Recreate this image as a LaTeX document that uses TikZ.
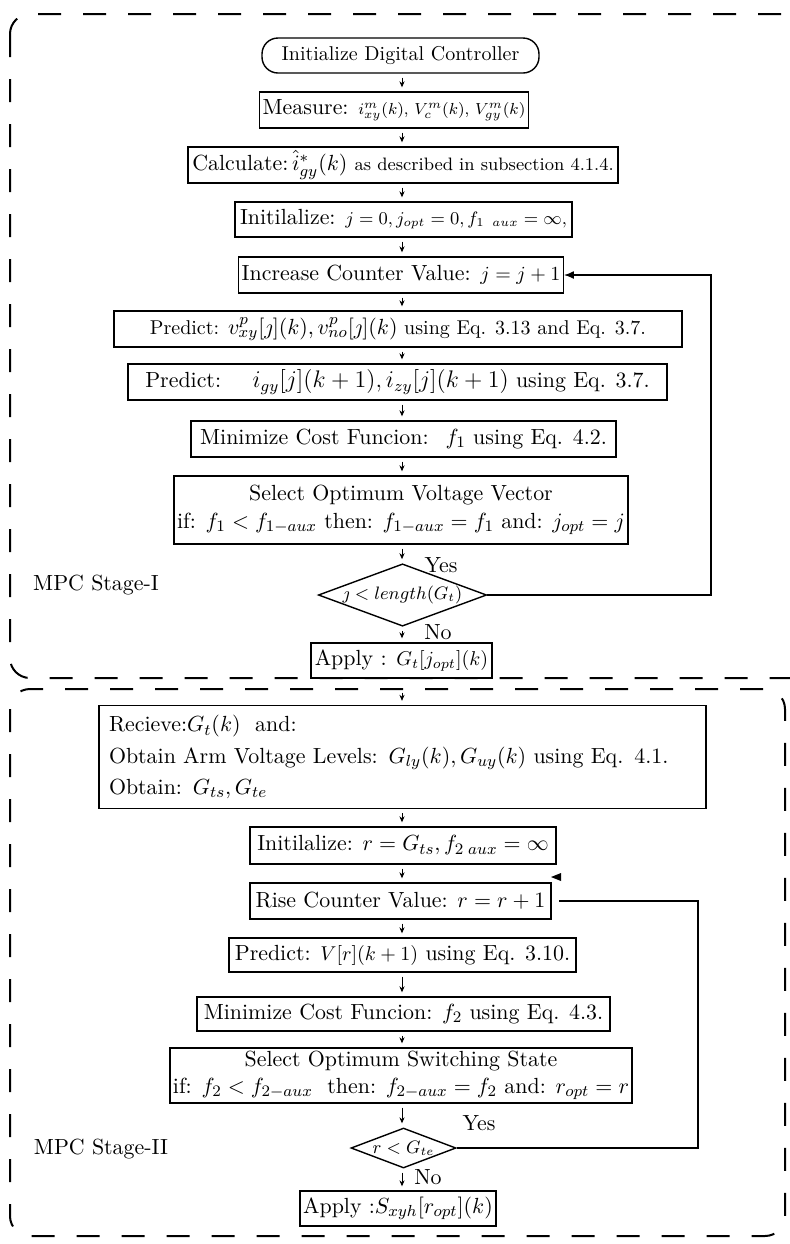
\documentclass[tikz,border=0pt,11pt]{standalone}
\usepackage{amsmath}
\usetikzlibrary{shapes.geometric,arrows.meta}

\begin{document}
\begin{tikzpicture}[x=0.5pt,y=-0.5pt,
  box/.style={draw,line width=0.7pt,inner sep=1.5pt,align=center},
  term/.style={box,rounded corners=8pt},
  cond/.style={draw,line width=0.7pt,diamond,aspect=2.7,inner sep=0pt},
  flow/.style={-{Stealth[length=3pt,width=2.6pt]},line width=0.4pt,shorten <=2pt,shorten >=2pt},
  loop/.style={-{Latex[length=5pt,width=4pt]},line width=0.7pt},
  stage/.style={draw,line width=1pt,dash pattern=on 11.5pt off 11pt,rounded corners=10pt}]
\useasboundingbox (0,0) rectangle (790,1244);

% dashed frames of the two stages
\draw[stage] (10,14) rectangle (812,678);
\draw[stage] (10,689) rectangle (785,1236);

\coordinate (axis) at (402,0);
\coordinate (ret1) at (711,0);
\coordinate (ret2) at (698,0);

% stage I
\node[term,minimum width=138.5pt,minimum height=17.5pt] (start) at (400.5,55.5) {\small Initialize Digital Controller};
\node[box,minimum width=127pt,minimum height=18pt] (meas) at (394,110) {Measure: {\scriptsize $i^m_{xy}(k),\, V^m_c(k),\, V^m_{gy}(k)$}};
\node[box,minimum width=215pt,minimum height=18pt] (calc) at (403,165) {Calculate:\,$\hat{i}^*_{gy}(k)$ {\footnotesize as described in subsection 4.1.4.}};
\node[box,minimum width=168.5pt,minimum height=17.5pt] (init1) at (403.5,219.5) {Initilalize: {\footnotesize $j=0, j_{opt}=0, f_{1\;\;aux}=\infty,$}};
\node[box,minimum width=160pt,minimum height=18pt] (incr) at (401,275) {Increase Counter Value: {\small $j=j+1$}};
\node[box,minimum width=284pt,minimum height=18pt] (predv) at (398,329) {\small Predict: {\normalsize $v^p_{xy}[\jmath](k), v^p_{no}[\jmath](k)$} using Eq. 3.13 and Eq. 3.7.};
\node[box,minimum width=269.5pt,minimum height=18pt] (predi) at (397.5,382) {Predict: \quad {\large $i_{gy}[j](k+1), i_{zy}[j](k+1)$} using Eq. 3.7.};
\node[box,minimum width=212.5pt,minimum height=18pt] (mini1) at (403.5,439) {Minimize Cost Funcion: \ $f_1$ using Eq. 4.2.};
\node[box,minimum width=217pt,minimum height=34pt] (sel1) at (401,510) {Select Optimum Voltage Vector\\ if: $f_1 < f_{1-aux}$ then: $f_{1-aux} = f_1$ and: $j_{opt} = j$};
\node[cond,minimum width=81.5pt,minimum height=30pt] (dia1) at (402.5,595) {\footnotesize $\jmath < length(G_t)$};
\node[box,minimum width=90.5pt,minimum height=17.5pt] (apply1) at (401.5,660.5) {Apply : {\small $G_t[j_{opt}](k)$}};

\node (yes1) at (441,565) {Yes};
\node (no1) at (438,632) {No};
\node (lab1) at (96,585) {MPC Stage-I};

\draw[flow] (start.south -| axis) -- (axis |- meas.north);
\draw[flow] (meas.south -| axis) -- (axis |- calc.north);
\draw[flow] (calc.south -| axis) -- (axis |- init1.north);
\draw[flow] (init1.south -| axis) -- (axis |- incr.north);
\draw[flow] (incr.south -| axis) -- (axis |- predv.north);
\draw[flow] (predv.south -| axis) -- (axis |- predi.north);
\draw[flow] (predi.south -| axis) -- (axis |- mini1.north);
\draw[flow] (mini1.south -| axis) -- (axis |- sel1.north);
\draw[flow] (sel1.south -| axis) -- (axis |- dia1.north);
\draw[flow] (dia1.south -| axis) -- (axis |- apply1.north);
\draw[loop] (dia1.east) -| (ret1 |- incr.east) -- (incr.east);

% stage II
\node[box,align=left,text width=293.5pt,inner sep=5pt,minimum height=48pt] (recv) at (402.5,757) {Recieve:$G_t(k)$ \ and:\\[2pt] Obtain Arm Voltage Levels: $G_{ly}(k), G_{uy}(k)$ using Eq. 4.1.\\[2pt] Obtain: $G_{ts}, G_{te}$};
\node[box,minimum width=153pt,minimum height=18.5pt] (init2) at (403,845.5) {Initilalize: $r = G_{ts}, f_{2\;aux} = \infty$};
\node[box,minimum width=150.5pt,minimum height=18pt] (rise) at (400.5,901) {Rise Counter Value: $r = r + 1$};
\node[box,minimum width=173.5pt,minimum height=17pt] (predV) at (402.5,955) {Predict: {\small $V[r](k+1)$} using Eq. 3.10.};
\node[box,minimum width=206.5pt,minimum height=17pt] (mini2) at (403.5,1014) {Minimize Cost Funcion: $f_2$ using Eq. 4.3.};
\node[box,minimum width=221pt,minimum height=27.5pt] (sel2) at (401,1075.5) {Select Optimum Switching State\\ if: $f_2 < f_{2-aux}$ \ then: $f_{2-aux} = f_2$ and: $r_{opt} = r$};
\node[cond,minimum width=52.5pt,minimum height=20pt] (dia2) at (403.5,1148) {\footnotesize $r < G_{te}$};
\node[box,minimum width=98pt,minimum height=17.5pt] (apply2) at (398,1208.5) {Apply :$S_{xyh}[r_{opt}](k)$};

\node (yes2) at (479,1123) {Yes};
\node (no2) at (428,1177) {No};
\node (lab2) at (101,1149) {MPC Stage-II};

\draw[flow,shorten <=7pt] (apply1.south -| axis) -- (axis |- recv.north);
\draw[flow] (recv.south -| axis) -- (axis |- init2.north);
\draw[flow] (init2.south -| axis) -- (axis |- rise.north);
\draw[flow] (rise.south -| axis) -- (axis |- predV.north);
\draw[flow] (predV.south -| axis) -- (axis |- mini2.north);
\draw[flow] (mini2.south -| axis) -- (axis |- sel2.north);
\draw[flow] (sel2.south -| axis) -- (axis |- dia2.north);
\draw[flow] (dia2.south -| axis) -- (axis |- apply2.north);
\coordinate (ret2end) at (559,901);
\draw[line width=0.7pt] (dia2.east) -| (ret2 |- ret2end) -- (ret2end);
\coordinate (tip2) at (551,877);
\fill (tip2) -- ++(10,-4) -- ++(0,8) -- cycle;
\end{tikzpicture}
\end{document}
